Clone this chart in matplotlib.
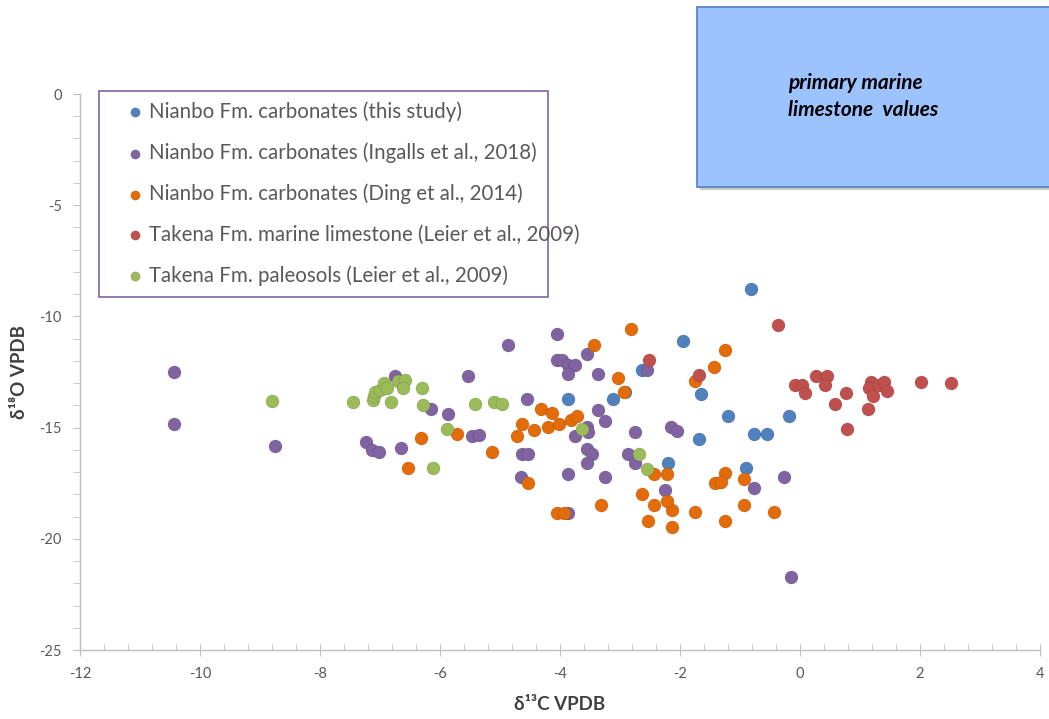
import numpy as np
import matplotlib
matplotlib.use("Agg")
import matplotlib.pyplot as plt
from matplotlib.patches import Rectangle
from matplotlib.ticker import MultipleLocator

# d13C / d18O values
this_study_x = [-0.82, -1.95, -2.63, -3.87, -3.12, -2.92, -1.65, -1.2, -1.68,
                -0.77, -0.55, -0.18, -2.2, -0.9]
this_study_y = [-8.77, -11.1, -12.4, -13.7, -13.7, -13.4, -13.5, -14.5, -15.5,
                -15.3, -15.3, -14.5, -16.6, -16.8]

ingalls_x = [-10.43, -10.43, -8.75, -6.75, -7.23, -7.13, -7.02, -6.65, -6.15, -5.87,
             -4.87, -5.53, -5.47, -5.35, -4.55, -4.63, -4.53, -4.65, -4.05, -4.05,
             -3.97, -3.87, -3.75, -3.87, -3.55, -3.37, -3.37, -3.25, -3.55, -3.53,
             -3.75, -3.55, -3.47, -3.55, -3.87, -3.25, -3.87, -2.75, -2.87, -2.75,
             -2.15, -2.05, -2.25, -2.55, -0.27, -0.77, -0.15]
ingalls_y = [-12.5, -14.84, -15.83, -12.7, -15.65, -16.0, -16.1, -15.9, -14.16, -14.4,
             -11.3, -12.7, -15.4, -15.35, -13.7, -16.2, -16.2, -17.2, -10.8, -11.96,
             -11.96, -12.2, -12.2, -12.6, -11.7, -12.6, -14.2, -14.7, -14.96, -15.2,
             -15.4, -15.97, -16.2, -16.6, -17.1, -17.2, -18.85, -15.2, -16.2, -16.6,
             -14.96, -15.15, -17.8, -12.4, -17.2, -17.7, -21.7]

ding_x = [-2.82, -3.43, -3.03, -2.93, -4.32, -4.13, -4.63, -4.43, -4.2, -4.02,
          -3.82, -3.72, -4.72, -5.13, -5.72, -6.32, -6.53, -4.53, -4.05, -3.93,
          -3.32, -2.63, -2.43, -2.53, -2.13, -2.13, -2.22, -2.43, -2.22, -1.75,
          -1.75, -1.25, -1.43, -1.25, -1.42, -1.32, -0.93, -1.25, -0.93, -0.43]
ding_y = [-10.57, -11.3, -12.77, -13.4, -14.17, -14.35, -14.84, -15.1, -14.96, -14.84,
          -14.66, -14.47, -15.4, -16.1, -15.3, -15.45, -16.8, -17.5, -18.85, -18.85,
          -18.5, -18.0, -18.5, -19.2, -19.47, -18.7, -18.3, -17.1, -17.1, -18.8,
          -12.9, -11.5, -12.27, -17.04, -17.5, -17.45, -17.3, -19.2, -18.5, -18.8]

takena_lst_x = [-0.37, -2.52, -1.68, -0.08, 0.03, 0.08, 0.27, 0.45, 0.42, 0.77, 0.58,
                0.78, 1.13, 1.18, 1.15, 1.22, 1.32, 1.4, 1.45, 2.02, 2.52]
takena_lst_y = [-10.4, -11.96, -12.65, -13.1, -13.1, -13.45, -12.7, -12.7, -13.1, -13.45,
                -13.94, -15.06, -14.16, -12.95, -13.2, -13.57, -13.1, -12.95, -13.35,
                -12.95, -13.0]

takena_pal_x = [-8.8, -7.45, -7.12, -7.1, -7.08, -7.0, -6.93, -6.88, -6.82, -6.7, -6.58,
                -6.62, -6.3, -6.28, -5.88, -6.12, -5.42, -5.1, -4.97, -3.63, -2.68, -2.55]
takena_pal_y = [-13.8, -13.85, -13.76, -13.6, -13.4, -13.3, -13.0, -13.2, -13.85, -12.9,
                -12.86, -13.2, -13.2, -14.0, -15.06, -16.8, -13.94, -13.85, -13.94,
                -15.06, -16.2, -16.85]

labels = ["Nianbo Fm. carbonates (this study)",
          "Nianbo Fm. carbonates (Ingalls et al., 2018)",
          "Nianbo Fm. carbonates (Ding et al., 2014)",
          "Takena Fm. marine limestone (Leier et al., 2009)",
          "Takena Fm. paleosols (Leier et al., 2009)"]
colors = ["#4F81BD", "#8064A2", "#E36C09", "#C0504D", "#9BBB59"]

plt.rcParams['font.family'] = ['Lato', 'DejaVu Sans']
plt.rcParams['axes.unicode_minus'] = False

W, H = 1049, 719
fig = plt.figure(figsize=(W / 100, H / 100), dpi=100)
ax = fig.add_axes([80 / W, 1 - 650 / H, 960 / W, 556 / H])

series = [(this_study_x, this_study_y), (ingalls_x, ingalls_y), (ding_x, ding_y),
          (takena_lst_x, takena_lst_y), (takena_pal_x, takena_pal_y)]
for (xs, ys), c, lab in zip(series, colors, labels):
    ax.scatter(xs, ys, s=88, color=c, edgecolors='#00000030', linewidths=0.4,
               label=lab, zorder=3)

ax.set_xlim(-12, 4)
ax.set_ylim(-25, 0)
ax.xaxis.set_major_locator(MultipleLocator(2))
ax.xaxis.set_minor_locator(MultipleLocator(0.4))
ax.yaxis.set_major_locator(MultipleLocator(5))
ax.yaxis.set_minor_locator(MultipleLocator(1))
ax.tick_params(axis='x', which='major', direction='inout', length=8, color='#BFBFBF',
               labelsize=10.5, labelcolor='#595959', pad=8)
ax.tick_params(axis='x', which='minor', direction='in', length=4, color='#BFBFBF')
ax.tick_params(axis='y', which='both', direction='out', length=5, color='#BFBFBF',
               labelsize=10.5, labelcolor='#595959', pad=8)
for side in ['top', 'right']:
    ax.spines[side].set_visible(False)
for side in ['left', 'bottom']:
    ax.spines[side].set_color('#BFBFBF')
    ax.spines[side].set_linewidth(1)

ax.set_xlabel("δ¹³C VPDB", fontsize=13.5, fontweight='bold', color='#404040')
ax.set_ylabel("δ¹⁸O VPDB", fontsize=13.5, fontweight='bold', color='#404040')
ax.xaxis.set_label_coords(0.5, -(704 - 650) / 556)
ax.yaxis.set_label_coords(-(80 - 20) / 960, (650 - 372) / 556)
ax.xaxis.label.set_va('center')
ax.yaxis.label.set_va('center')

# legend with a hand-drawn purple frame
ax.add_patch(Rectangle((99 / W, 1 - 297 / H), 449 / W, 206 / H, transform=fig.transFigure,
                       facecolor='white', edgecolor='#8064A2', linewidth=1.2, zorder=4,
                       clip_on=False))
leg = ax.legend(loc='upper left', bbox_to_anchor=(119 / W, 1 - 91 / H),
                bbox_transform=fig.transFigure, frameon=False, borderpad=0,
                handlelength=0.6, handletextpad=0.38, labelspacing=1.0,
                fontsize=14.8, markerscale=0.72, labelcolor='#595959')
leg.set_zorder(5)

# "primary marine limestone values" box
fig.add_artist(Rectangle((700 / W, 1 - 190 / H), 360 / W, 180 / H, transform=fig.transFigure,
                         facecolor='#C8C8C8', edgecolor='none', zorder=5))
fig.add_artist(Rectangle((697 / W, 1 - 187 / H), 360 / W, 180 / H, transform=fig.transFigure,
                         facecolor='#9DC3FF', edgecolor='#5A86C4', linewidth=1.3, zorder=6))
fig.text(788 / W, 1 - 83 / H, "primary marine", fontsize=15, fontweight='bold',
         fontstyle='italic', va='center', ha='left', color='black', zorder=7)
fig.text(788 / W, 1 - 110 / H, "limestone  values", fontsize=15, fontweight='bold',
         fontstyle='italic', va='center', ha='left', color='black', zorder=7)

fig.savefig("out.png", dpi=100)
